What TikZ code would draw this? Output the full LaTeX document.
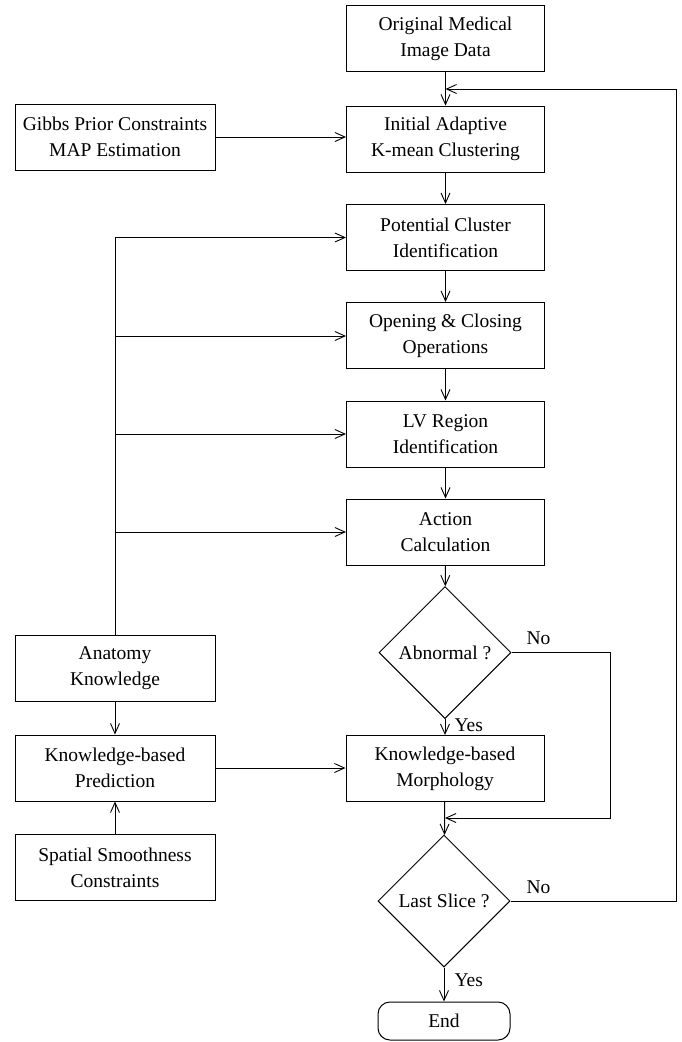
\documentclass[tikz,border=0pt]{standalone}
\usepackage{fontspec}
\setmainfont{Liberation Serif}
\usetikzlibrary{shapes.geometric,arrows.meta}
\begin{document}
\begin{tikzpicture}[x=1pt,y=-1pt,
  line width=1pt,
  >={Straight Barb[length=10pt,width=9pt,line width=0.9pt]},
  every node/.style={font=\fontsize{19.5}{26}\selectfont},
  blk/.style={draw,rectangle,minimum width=198pt,minimum height=66pt,align=center,inner sep=0pt},
  lblk/.style={blk,minimum width=200pt},
  dia/.style={draw,diamond,minimum width=132pt,minimum height=132pt,inner sep=0pt,align=center},
  term/.style={draw,rectangle,rounded corners=12pt,minimum width=132pt,minimum height=38pt,inner sep=0pt},
  lab/.style={inner sep=0pt}]
\useasboundingbox (0,0) rectangle (682,1042);
\node[blk] (orig) at (445.5,38.5) {Original Medical\\Image Data};
\node[blk] (init) at (445.5,139) {Initial Adaptive\\K-mean Clustering};
\node[blk] (pot) at (445.5,237.5) {Potential Cluster\\Identification};
\node[blk] (open) at (445.5,335.5) {Opening \& Closing\\Operations};
\node[blk] (lv) at (445.5,434) {LV Region\\Identification};
\node[blk] (act) at (445.5,532) {Action\\Calculation};
\node[dia] (abn) at (445,652.5) {Abnormal ?};
\node[blk] (morph) at (445,768.5) {Knowledge-based\\Morphology};
\node[dia] (last) at (444,901) {Last Slice ?};
\node[term] (end) at (444,1021) {End};
\node[lblk] (gibbs) at (115,137) {Gibbs Prior Constraints\\MAP Estimation};
\node[lblk] (anat) at (115,668) {Anatomy\\Knowledge};
\node[lblk] (kp) at (115,768) {Knowledge-based\\Prediction};
\node[lblk] (spat) at (115,867.5) {Spatial Smoothness\\Constraints};
\coordinate (loopin) at (445.5,89);
\coordinate (merge) at (445,818);
\coordinate (b3) at (115,336);
\coordinate (b4) at (115,434);
\coordinate (b5) at (115,532);
% main flow
\draw[->] (orig) -- (init);
\draw[->] (init) -- (pot);
\draw[->] (pot) -- (open);
\draw[->] (open) -- (lv);
\draw[->] (lv) -- (act);
\draw[->] (act) -- (abn);
\draw[->] (abn) -- (morph);
\draw[->] (morph) -- (last);
\draw[->] (last) -- (end);
% no branches
\draw[->] (abn.east) -| (610,818) -- (merge);
\draw[->] (last.east) -| (676,89) -- (loopin);
\node[lab,anchor=south west] (no1) at (526,645) {No};
\node[lab,anchor=south west] (no2) at (526,894) {No};
\node[lab,anchor=west] (yes1) at (454,725) {Yes};
\node[lab,anchor=west] (yes2) at (454,980) {Yes};
% left side
\draw[->] (gibbs.east) -- (gibbs.east -| init.west);
\draw[->] (anat.north) |- (pot.west);
\draw[->] (b3) -- (b3 -| open.west);
\draw[->] (b4) -- (b4 -| lv.west);
\draw[->] (b5) -- (b5 -| act.west);
\draw[->] (anat) -- (kp);
\draw[->] (spat) -- (kp);
\draw[->] (kp.east) -- (kp.east -| morph.west);
\end{tikzpicture}
\end{document}
